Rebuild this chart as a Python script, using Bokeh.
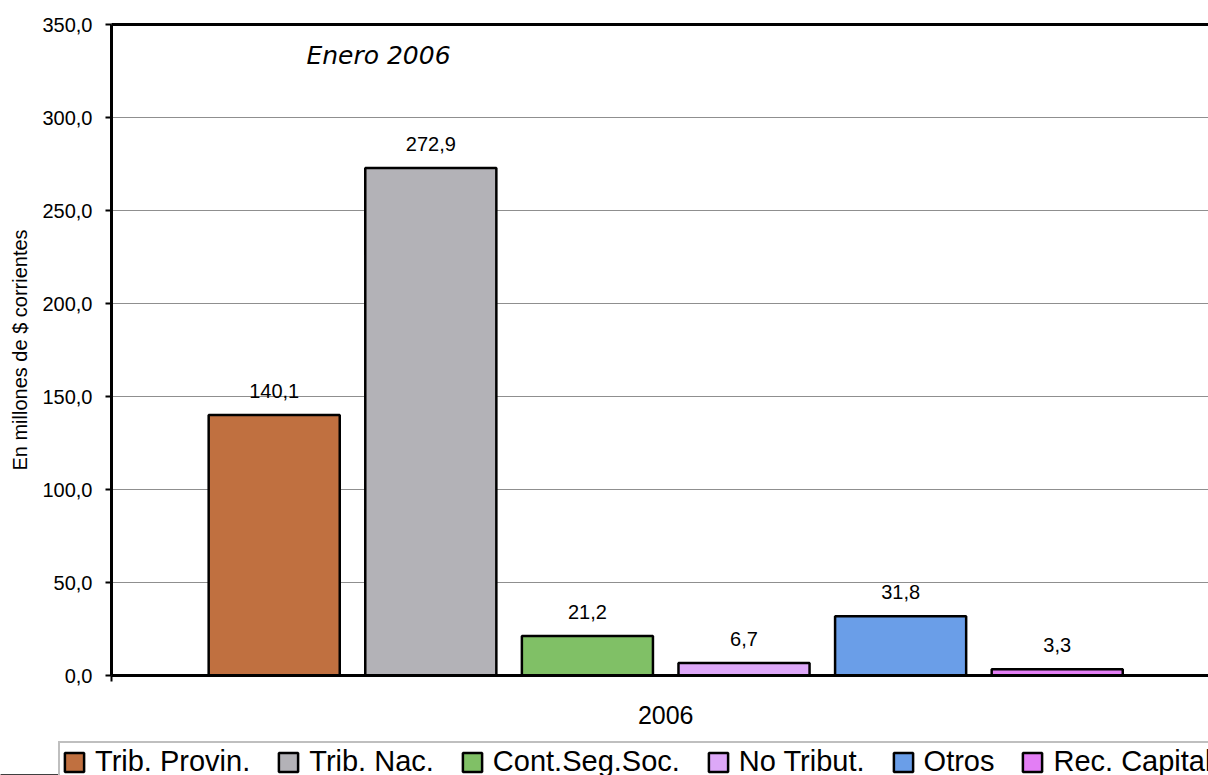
from bokeh.plotting import figure
from bokeh.models import (ColumnDataSource, Range1d, FixedTicker, LinearAxis,
                          Legend, LegendItem, Label, LabelSet)
from bokeh.core.properties import value
from bokeh.embed import file_html
from bokeh.resources import INLINE

# ---- data ----
series = ["Trib. Provin.", "Trib. Nac.", "Cont.Seg.Soc.", "No Tribut.", "Otros", "Rec. Capital"]
values = [140.1, 272.9, 21.2, 6.7, 31.8, 3.3]
colors = ["#C07040", "#B3B2B7", "#80C066", "#DDA8F8", "#6A9EE8", "#E37EF5"]
category = "2006"
title_text = "Enero 2006"
y_label = "En millones de $ corrientes"
y_ticks = [0, 50, 100, 150, 200, 250, 300, 350]
y_tick_labels = ["0,0", "50,0", "100,0", "150,0", "200,0", "250,0", "300,0", "350,0"]

FONT = "Liberation Sans"

xs = list(range(len(series)))
labels = [f"{v:.1f}".replace(".", ",") for v in values]
src = ColumnDataSource(dict(x=xs, top=values, color=colors, name=series, label=labels))

x_start, x_end = -1.039, 5.966
group_center = (xs[0] + xs[-1]) / 2

p = figure(width=1208, height=739,
           x_range=Range1d(x_start, x_end), y_range=Range1d(y_ticks[0], y_ticks[-1]),
           output_backend="svg", toolbar_location=None,
           min_border_left=111, min_border_right=0, min_border_top=24, min_border_bottom=64)
p.outline_line_color = None
p.background_fill_color = "white"
p.border_fill_color = "white"

# grid
p.xgrid.visible = False
p.ygrid.ticker = FixedTicker(ticks=y_ticks)
p.ygrid.grid_line_color = "#8f8f8f"
p.ygrid.grid_line_width = 1

# y axis
ya = p.yaxis[0]
ya.ticker = FixedTicker(ticks=y_ticks)
ya.major_label_overrides = dict(zip(y_ticks, y_tick_labels))
ya.axis_line_width = 3
ya.axis_line_color = "black"
ya.major_tick_out = 6
ya.major_tick_in = 0
ya.major_tick_line_width = 2
ya.minor_tick_out = 0
ya.minor_tick_in = 0
ya.major_label_text_font = FONT
ya.major_label_text_font_size = "20px"
ya.major_label_text_color = "black"
ya.major_label_standoff = 13
ya.axis_label = y_label
ya.axis_label_text_font = FONT
ya.axis_label_text_font_size = "20px"
ya.axis_label_text_font_style = "normal"
ya.axis_label_text_color = "black"
ya.axis_label_standoff = 8

# x axis (bottom): category label at the group centre, boundary tick at the left
xa = p.xaxis[0]
xa.ticker = FixedTicker(ticks=[group_center], minor_ticks=[x_start])
xa.major_label_overrides = {group_center: category}
xa.axis_line_width = 3
xa.axis_line_color = "black"
xa.major_tick_out = 0
xa.major_tick_in = 0
xa.minor_tick_out = 6
xa.minor_tick_in = 0
xa.minor_tick_line_width = 2
xa.minor_tick_line_color = "black"
xa.major_label_text_font = FONT
xa.major_label_text_font_size = "25px"
xa.major_label_text_color = "black"
xa.major_label_standoff = 24

# top border
top_axis = LinearAxis(ticker=FixedTicker(ticks=[]), axis_line_width=3, axis_line_color="black",
                      major_tick_out=0, major_tick_in=0, minor_tick_out=0, minor_tick_in=0,
                      major_label_text_alpha=0)
p.add_layout(top_axis, "above")

# bars
r = p.vbar(x="x", top="top", bottom=0, width=0.837, fill_color="color",
           line_color="black", line_width=2.5, source=src)

# value labels
p.add_layout(LabelSet(x="x", y="top", text="label", source=src, text_align="center",
                      text_baseline="middle", y_offset=24, text_font=value(FONT),
                      text_font_size=value("20px"), text_color="black"))

# title
p.add_layout(Label(x=0.666, y=y_ticks[-1], y_offset=-31, text=title_text, text_align="center",
                   text_baseline="middle", text_font="DejaVu Sans", text_font_style="italic",
                   text_font_size="25px", text_color="black"))

# ---- legend strip (second root, stacked under the chart) ----
lg = figure(width=1208, height=36, x_range=Range1d(0, 1), y_range=Range1d(1000, 1001),
            x_axis_type=None, y_axis_type=None, output_backend="svg", toolbar_location=None,
            min_border_left=0, min_border_right=0, min_border_top=0, min_border_bottom=0)
lg.outline_line_color = None
lg.background_fill_color = "white"
lg.border_fill_color = "white"
lg.xgrid.visible = False
lg.ygrid.visible = False
r2 = lg.vbar(x="x", top="top", bottom=0, width=0.837, fill_color="color",
             line_color="black", line_width=2.5, source=src)
items = [LegendItem(label=series[i], renderers=[r2], index=i) for i in xs]
legend = Legend(items=items, orientation="horizontal", location=(58, -7),
                padding=2, spacing=26, margin=0,
                glyph_width=24, glyph_height=24, label_standoff=9,
                label_text_font=FONT, label_text_font_size="29px", label_text_color="black",
                border_line_color="#7f7f7f", border_line_width=2,
                background_fill_color="white", background_fill_alpha=1)
lg.add_layout(legend)

open("out.html", "w").write(file_html([p, lg], INLINE))
